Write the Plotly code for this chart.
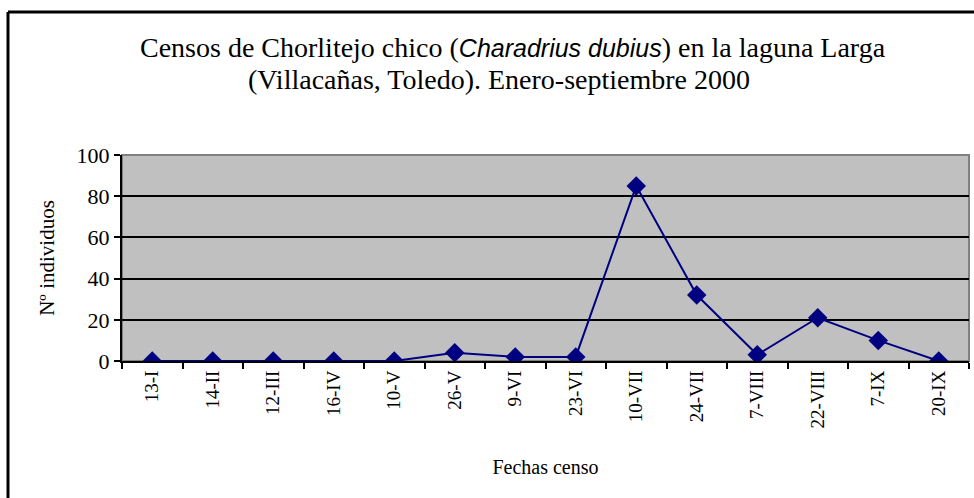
import plotly.graph_objects as go

fechas = ["13-I", "14-II", "12-III", "16-IV", "10-V", "26-V", "9-VI", "23-VI",
          "10-VII", "24-VII", "7-VIII", "22-VIII", "7-IX", "20-IX"]
individuos = [0, 0, 0, 0, 0, 4, 2, 2, 85, 32, 3, 21, 10, 0]

SERIF = "Liberation Serif, Times New Roman, serif"

W, H = 974, 498
L, R, T, B = 122, 5, 155, 137
pw, ph = W - L - R, H - T - B

def px(x):
    return (x - L) / pw

def py(y):
    return (H - B - y) / ph

fig = go.Figure()
fig.add_trace(go.Scatter(
    x=fechas, y=individuos, mode="lines+markers",
    line=dict(color="#000080", width=2),
    marker=dict(symbol="diamond", size=15, color="#000080"),
    showlegend=False, hoverinfo="x+y",
))

fig.update_layout(
    width=W, height=H,
    margin=dict(l=L, r=R, t=T, b=B),
    paper_bgcolor="white", plot_bgcolor="#C0C0C0",
    font=dict(family=SERIF, color="black"),
    xaxis=dict(
        type="category", range=[-0.5, len(fechas) - 0.5],
        showgrid=False, showline=True, linecolor="black", linewidth=2,
        ticks="outside", tickson="boundaries", ticklen=6, tickwidth=2, tickcolor="black",
        tickangle=-90, tickfont=dict(family=SERIF, size=19),
        title=dict(text="Fechas censo", font=dict(family=SERIF, size=20), standoff=32),
        zeroline=False,
    ),
    yaxis=dict(
        range=[0, 100], dtick=20, tick0=0,
        showgrid=True, gridcolor="black", gridwidth=1.5,
        showline=True, linecolor="black", linewidth=2,
        ticks="outside", ticklen=6, tickwidth=2, tickcolor="black",
        tickfont=dict(family=SERIF, size=22),
        title=dict(text="Nº individuos", font=dict(family=SERIF, size=21), standoff=16),
        zeroline=False,
    ),
    shapes=[
        dict(type="rect", xref="paper", yref="paper", x0=0, x1=1, y0=0, y1=1,
             line=dict(color="#808080", width=2), layer="below"),
        dict(type="line", xref="paper", yref="paper", x0=px(8), x1=px(985), y0=py(12), y1=py(12),
             line=dict(color="black", width=3)),
        dict(type="line", xref="paper", yref="paper", x0=px(8), x1=px(8), y0=py(12), y1=py(510),
             line=dict(color="black", width=3)),
    ],
    annotations=[
        dict(xref="paper", yref="paper", x=px(513), y=py(47), xanchor="center", yanchor="middle",
             showarrow=False, font=dict(family=SERIF, size=28),
             text="Censos de Chorlitejo chico (<i><span style='font-family:Liberation Sans, Arial, sans-serif;font-size:25px'>Charadrius dubius</span></i>) en la laguna Larga"),
        dict(xref="paper", yref="paper", x=px(499), y=py(80), xanchor="center", yanchor="middle",
             showarrow=False, font=dict(family=SERIF, size=28),
             text="(Villacañas, Toledo). Enero-septiembre 2000"),
    ],
)

fig.write_html("out.html", config={"displayModeBar": False},
               post_script="document.body.style.margin='0';document.body.style.overflow='hidden';")
